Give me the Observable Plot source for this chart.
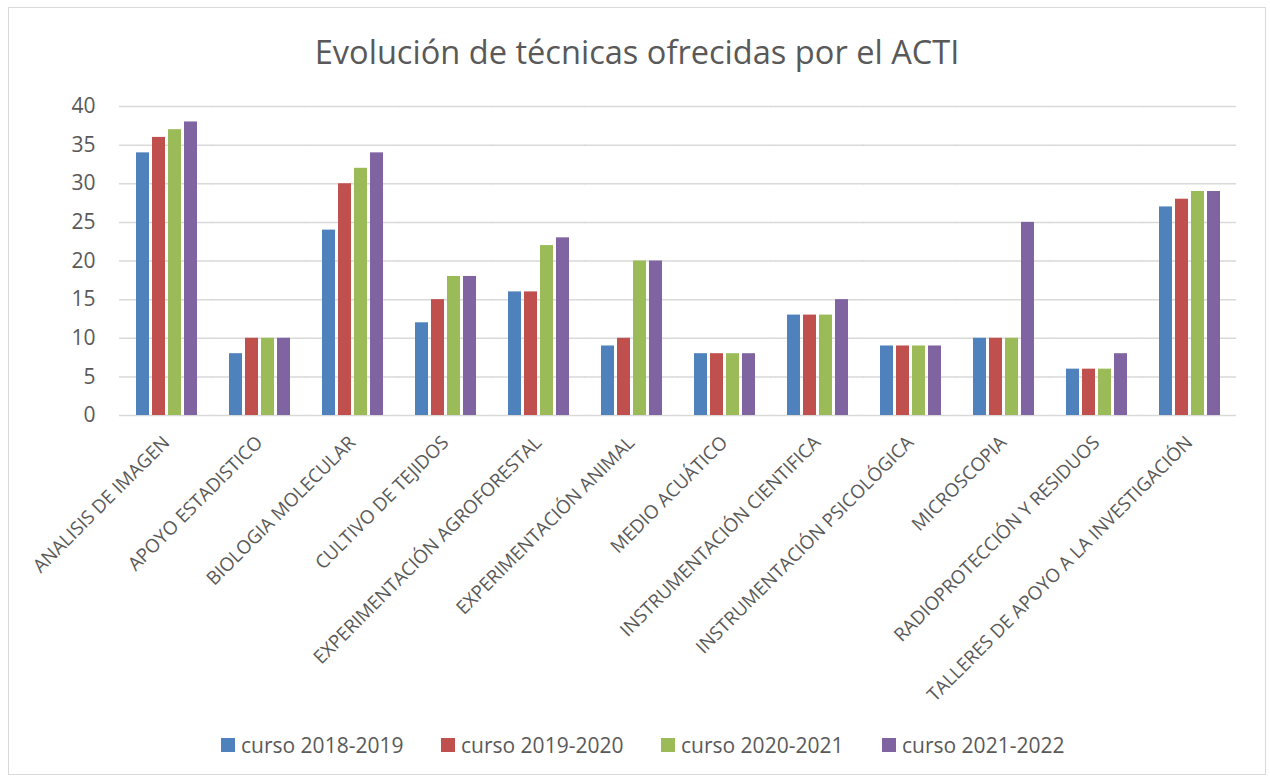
<!DOCTYPE html>
<html>
<head>
<meta charset="utf-8">
<script src="https://cdn.jsdelivr.net/npm/d3@7"></script>
<script src="https://cdn.jsdelivr.net/npm/@observablehq/plot@0.6"></script>
<style>
  html, body { margin: 0; padding: 0; background: #fff; }
  body { width: 1270px; height: 777px; position: relative; overflow: hidden; font-family: "Open Sans", sans-serif; }
  #frame { position: absolute; left: 8px; top: 7px; width: 1258px; height: 768px; border: 1.5px solid #D9D9D9; box-sizing: border-box; }
  #title { position: absolute; left: 0; top: 29px; width: 1274px; text-align: center; font-size: 32.6px; color: #595959; line-height: 46px; }
  #chart { position: absolute; left: 0; top: 90px; }
  #legend { position: absolute; top: 731px; left: 0; width: 1270px; height: 28px; }
  .item { position: absolute; top: 0; display: flex; align-items: center; height: 28px; font-size: 21px; color: #595959; white-space: nowrap; }
  .swatch { width: 14px; height: 14px; margin-right: 6px; }
</style>
</head>
<body>
<div id="frame"></div>
<div id="title">Evolución de técnicas ofrecidas por el ACTI</div>
<div id="chart"></div>
<div id="legend"></div>
<script>
const categories = [
  "ANALISIS DE IMAGEN",
  "APOYO ESTADISTICO",
  "BIOLOGIA MOLECULAR",
  "CULTIVO DE TEJIDOS",
  "EXPERIMENTACIÓN AGROFORESTAL",
  "EXPERIMENTACIÓN ANIMAL",
  "MEDIO ACUÁTICO",
  "INSTRUMENTACIÓN CIENTIFICA",
  "INSTRUMENTACIÓN PSICOLÓGICA",
  "MICROSCOPIA",
  "RADIOPROTECCIÓN Y RESIDUOS",
  "TALLERES DE APOYO A LA INVESTIGACIÓN"
];
const seriesNames = ["curso 2018-2019", "curso 2019-2020", "curso 2020-2021", "curso 2021-2022"];
const curso2018_2019 = [34, 8, 24, 12, 16, 9, 8, 13, 9, 10, 6, 27];
const curso2019_2020 = [36, 10, 30, 15, 16, 10, 8, 13, 9, 10, 6, 28];
const curso2020_2021 = [37, 10, 32, 18, 22, 20, 8, 13, 9, 10, 6, 29];
const curso2021_2022 = [38, 10, 34, 18, 23, 20, 8, 15, 9, 25, 8, 29];
const yTicks = [0, 5, 10, 15, 20, 25, 30, 35, 40];
const colors = ["#4F81BD", "#C0504D", "#9BBB59", "#8064A2"];

const seriesValues = [curso2018_2019, curso2019_2020, curso2020_2021, curso2021_2022];
const data = [];
categories.forEach((c, i) => {
  seriesNames.forEach((s, j) => {
    data.push({category: c, series: s, value: seriesValues[j][i]});
  });
});

const chart = Plot.plot({
  width: 1270,
  height: 620,
  marginTop: 16,
  marginLeft: 117,
  marginRight: 33,
  marginBottom: 295,
  style: {fontFamily: "Open Sans, sans-serif", color: "#595959", background: "transparent"},
  fx: {domain: categories, paddingInner: 0.335, paddingOuter: 0.1675},
  x: {domain: seriesNames, paddingInner: 0.2, paddingOuter: 0, axis: null},
  y: {domain: [0, 40]},
  color: {domain: seriesNames, range: colors},
  marks: [
    Plot.ruleY(yTicks, {stroke: "#D9D9D9", strokeWidth: 1.5, insetLeft: -16, insetRight: -16}),
    Plot.barY(data, {fx: "category", x: "series", y: "value", fill: "series"}),
    Plot.axisY(yTicks, {tickSize: 0, tickPadding: 40, fontSize: 21, fill: "#595959", label: null}),
    Plot.axisFx({anchor: "bottom", tickRotate: -45, tickSize: 0, tickPadding: 24, fontSize: 18.7, fill: "#595959", label: null})
  ]
});
document.getElementById("chart").appendChild(chart);

const legend = document.getElementById("legend");
const legendLeft = [221, 441, 661, 882];
seriesNames.forEach((s, j) => {
  const item = document.createElement("div");
  item.className = "item";
  item.style.left = legendLeft[j] + "px";
  const sw = document.createElement("div");
  sw.className = "swatch";
  sw.style.background = colors[j];
  const t = document.createElement("span");
  t.textContent = s;
  item.appendChild(sw);
  item.appendChild(t);
  legend.appendChild(item);
});
</script>
</body>
</html>
